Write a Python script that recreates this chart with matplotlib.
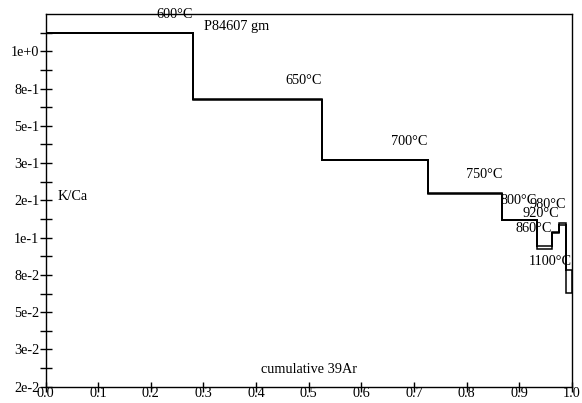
import numpy as np
import matplotlib
matplotlib.use("Agg")
import matplotlib.pyplot as plt
from matplotlib.ticker import NullFormatter, FixedLocator

plt.rcParams['font.family'] = ['Liberation Serif', 'DejaVu Serif']

# Heating steps: label, cumulative 39Ar fraction at end of step, K/Ca and 1-sigma error
step_labels = ["600°C", "650°C", "700°C", "750°C", "800°C", "860°C", "920°C", "980°C", "1100°C"]
cum_39ar = [0.280, 0.525, 0.726, 0.868, 0.934, 0.962, 0.976, 0.988, 1.000]
kca = [1.576, 0.697, 0.329, 0.218, 0.157, 0.1119, 0.1348, 0.1493, 0.0742]
kca_err = [0.004, 0.002, 0.001, 0.0007, 0.0005, 0.0016, 0.0005, 0.0018, 0.0103]

# Axis annotations
x_ticks = [0.0, 0.1, 0.2, 0.3, 0.4, 0.5, 0.6, 0.7, 0.8, 0.9, 1.0]
y_tick_labels = ["2e-2", "3e-2", "5e-2", "8e-2", "1e-1", "2e-1", "3e-1", "5e-1", "8e-1", "1e+0"]
y_min, y_max = 0.02, 2.0

fig = plt.figure(figsize=(5.82, 4.03), dpi=100)
ax = fig.add_axes([0.0782, 0.0404, 0.9046, 0.9249])

edges = np.concatenate([[0.0], cum_39ar])
vals = np.array(kca)
errs = np.array(kca_err)
ax.stairs(vals + errs, edges, baseline=vals - errs, fill=False,
          color='black', linewidth=1.1)

for lab, xr, v in zip(step_labels, cum_39ar, kca):
    ax.annotate(lab, xy=(xr, v), xytext=(0, 13.7), textcoords='offset points',
                ha='right', va='center', fontsize=10.3)

ax.set_yscale('log')
ax.set_xlim(0.0, 1.0)
ax.set_ylim(y_min, y_max)

major = y_min * 10 ** (0.2 * np.arange(len(y_tick_labels)))
minor = y_min * 10 ** (0.1 + 0.2 * np.arange(len(y_tick_labels)))
ax.yaxis.set_major_locator(FixedLocator(major))
ax.set_yticklabels(y_tick_labels)
ax.yaxis.set_minor_locator(FixedLocator(minor))
ax.yaxis.set_minor_formatter(NullFormatter())
ax.set_xticks(x_ticks)
ax.set_xticklabels([f"{t:.1f}" for t in x_ticks])

ax.tick_params(axis='y', which='both', direction='inout', length=8, width=1,
               labelsize=10.3, pad=0.5, right=False)
ax.tick_params(axis='x', which='major', direction='inout', length=7, width=1,
               labelsize=10.3, pad=-3.2, top=False)
ax.tick_params(axis='x', which='minor', bottom=False, top=False)
for sp in ax.spines.values():
    sp.set_linewidth(1.0)

ax.text(0.301, 0.966, "P84607 gm", transform=ax.transAxes, ha='left', va='center', fontsize=10.3)
ax.text(0.023, 0.51, "K/Ca", transform=ax.transAxes, ha='left', va='center', fontsize=10.3)
ax.text(0.409, 0.045, "cumulative 39Ar", transform=ax.transAxes, ha='left', va='center', fontsize=10.3)

fig.savefig("out.png", dpi=100)
